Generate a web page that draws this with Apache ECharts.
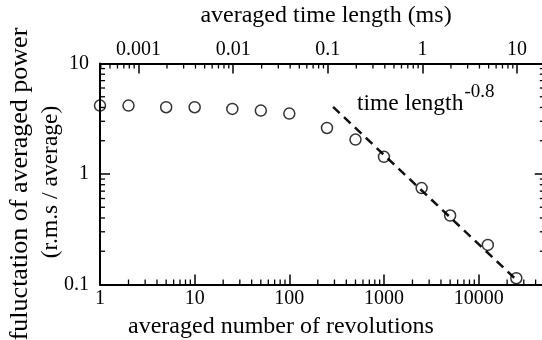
<!DOCTYPE html>
<html>
<head>
<meta charset="utf-8">
<script src="https://cdn.jsdelivr.net/npm/echarts@6/dist/echarts.min.js"></script>
<style>html,body{margin:0;padding:0;background:#fff}#c{width:542px;height:340px}</style>
</head>
<body>
<div id="c"></div>
<script>
// ---- data ----
var revolutions = [1, 2, 5, 10, 25, 50, 100, 250, 500, 1000, 2500, 5000, 12500, 25000];
var fluctuation = [4.16, 4.16, 4.02, 4.02, 3.88, 3.75, 3.52, 2.61, 2.05, 1.43, 0.746, 0.421, 0.228, 0.114];
var fitRev = [290, 26000];
var fitVal = [4.05, 0.107];
var revPerMs = 2550;           // conversion between bottom and top axis
var xRange = [1, 50000];
var yRange = [0.1, 10];
var xTitle = 'averaged number of revolutions';
var x2Title = 'averaged time length (ms)';
var yTitle1 = 'fuluctation of averaged power';
var yTitle2 = '(r.m.s / average)';
var noteText = 'time length';
var noteExp = '-0.8';

var FONT = '"Liberation Serif", "Times New Roman", serif';
var chart = echarts.init(document.getElementById('c'), null, {renderer: 'canvas'});

function minorList(lo, hi) {
  var out = [];
  for (var e = -6; e <= 6; e++) {
    for (var m = 2; m <= 9; m++) {
      var v = m * Math.pow(10, e);
      if (v > lo * 1.0001 && v < hi * 0.9999) out.push(v);
    }
  }
  return out;
}
var minorItems = [];
minorList(xRange[0], xRange[1]).forEach(function (v) { minorItems.push(['b', v]); });
minorList(xRange[0] / revPerMs, xRange[1] / revPerMs).forEach(function (v) { minorItems.push(['t', v * revPerMs]); });
minorList(yRange[0], yRange[1]).forEach(function (v) { minorItems.push(['l', v]); minorItems.push(['r', v]); });

var MINOR = 5;
function renderMinor(params, api) {
  var cs = params.coordSys;
  var side = minorItems[params.dataIndex][0];
  var v = minorItems[params.dataIndex][1];
  var x1, y1, x2, y2;
  if (side === 'b' || side === 't') {
    var px = api.coord([v, 1])[0];
    x1 = x2 = px;
    if (side === 'b') { y1 = cs.y + cs.height; y2 = y1 - MINOR; }
    else { y1 = cs.y; y2 = y1 + MINOR; }
  } else {
    var py = api.coord([1, v])[1];
    y1 = y2 = py;
    if (side === 'l') { x1 = cs.x; x2 = x1 + MINOR; }
    else { x1 = cs.x + cs.width; x2 = x1 - MINOR; }
  }
  return {type: 'line', shape: {x1: x1, y1: y1, x2: x2, y2: y2},
          style: {stroke: '#000', lineWidth: 1.3}};
}

// width of the annotation text, so the exponent sits right after it
var noteFont = '23.5px ' + FONT;
var mctx = document.createElement('canvas').getContext('2d');
mctx.font = noteFont;
var noteW = mctx.measureText(noteText).width;
var noteX = 357;

var axisCommon = {
  axisLine: {show: true, lineStyle: {color: '#000', width: 2}},
  axisTick: {show: true, inside: true, length: 10, lineStyle: {color: '#000', width: 1.5}},
  splitLine: {show: false},
  axisLabel: {color: '#000', fontFamily: FONT, fontSize: 20}
};
function fmt(v) { return String(+(+v).toPrecision(3)); }

var option = {
  backgroundColor: '#fff',
  animation: false,
  grid: {left: 100, top: 63.5, width: 444.8, height: 221, containLabel: false, outerBoundsMode: 'none'},
  xAxis: [
    Object.assign({}, axisCommon, {
      type: 'log', logBase: 10, min: xRange[0], max: xRange[1], position: 'bottom',
      axisLabel: Object.assign({}, axisCommon.axisLabel, {margin: 4, showMaxLabel: false, formatter: fmt})
    }),
    Object.assign({}, axisCommon, {
      type: 'log', logBase: 10, min: xRange[0] / revPerMs, max: xRange[1] / revPerMs, position: 'top',
      axisLabel: Object.assign({}, axisCommon.axisLabel, {margin: 4, showMaxLabel: false, showMinLabel: false, formatter: fmt})
    })
  ],
  yAxis: [
    Object.assign({}, axisCommon, {
      type: 'log', logBase: 10, min: yRange[0], max: yRange[1], position: 'left',
      axisLabel: Object.assign({}, axisCommon.axisLabel, {margin: 11, formatter: fmt})
    }),
    Object.assign({}, axisCommon, {
      type: 'log', logBase: 10, min: yRange[0], max: yRange[1], position: 'right',
      axisLabel: {show: false}
    })
  ],
  graphic: [
    {type: 'text', x: 326, y: 16, style: {text: x2Title, font: '24px ' + FONT, fill: '#000', textAlign: 'center', textVerticalAlign: 'middle'}},
    {type: 'text', x: 281, y: 327, style: {text: xTitle, font: '24px ' + FONT, fill: '#000', textAlign: 'center', textVerticalAlign: 'middle'}},
    {type: 'text', x: 20, y: 184, rotation: Math.PI / 2, style: {text: yTitle1, font: '26px ' + FONT, fill: '#000', textAlign: 'center', textVerticalAlign: 'middle'}},
    {type: 'text', x: 51, y: 182, rotation: Math.PI / 2, style: {text: yTitle2, font: '23.5px ' + FONT, fill: '#000', textAlign: 'center', textVerticalAlign: 'middle'}},
    {type: 'text', x: noteX, y: 104, style: {text: noteText, font: noteFont, fill: '#000', textAlign: 'left', textVerticalAlign: 'middle'}},
    {type: 'text', x: noteX + noteW + 1, y: 92, style: {text: noteExp, font: '19px ' + FONT, fill: '#000', textAlign: 'left', textVerticalAlign: 'middle'}}
  ],
  series: [
    {
      type: 'line', xAxisIndex: 0, yAxisIndex: 0,
      data: fitRev.map(function (r, i) { return [r, fitVal[i]]; }),
      showSymbol: false, symbol: 'none',
      lineStyle: {color: '#111', width: 2.5, type: [9, 6]}, z: 3
    },
    {
      type: 'scatter', xAxisIndex: 0, yAxisIndex: 0,
      data: revolutions.map(function (r, i) { return [r, fluctuation[i]]; }),
      symbol: 'circle', symbolSize: 11,
      itemStyle: {color: 'rgba(0,0,0,0)', borderColor: '#000', borderWidth: 1.5}, z: 4
    },
    {
      type: 'custom', xAxisIndex: 0, yAxisIndex: 0, clip: false,
      data: minorItems.map(function (d, i) { return [i]; }),
      renderItem: renderMinor, silent: true, z: 5
    }
  ]
};
chart.setOption(option);
</script>
</body>
</html>
